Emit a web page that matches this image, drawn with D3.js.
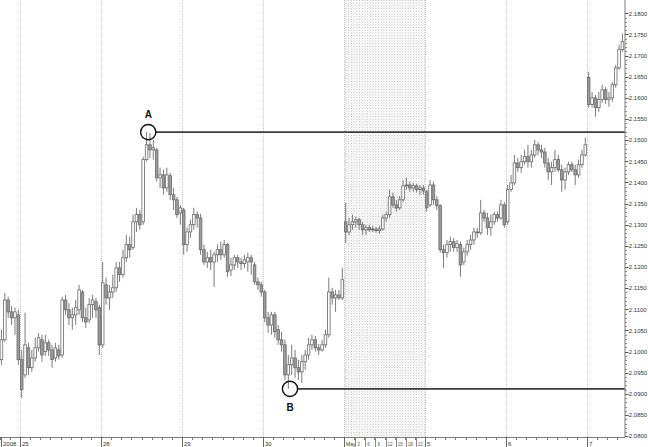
<!DOCTYPE html>
<html><head><meta charset="utf-8">
<script src="https://cdn.jsdelivr.net/npm/d3@7"></script>
<style>body{margin:0;background:#fff}svg{display:block}text{font-family:"Liberation Sans",Arial,sans-serif}</style>
</head><body><svg id="c" width="648" height="447"></svg>
<script>
// Hourly candles, 24 Apr 2008 late – 7 May 2008
const opens=[
2.0981,2.1028,2.1122,2.1094,2.1080,2.1087,2.0981,2.0945,2.1009,2.0962,
2.0985,2.1009,2.1028,2.1000,2.1021,2.1004,2.0985,2.1004,2.0992,2.1122,
2.1099,2.1080,2.1087,2.1099,2.1141,2.1080,2.1075,2.1111,2.1118,2.1104,
2.1016,2.1158,2.1127,2.1141,2.1151,2.1198,2.1182,2.1222,2.1253,2.1246,
2.1307,2.1324,2.1307,2.1454,2.1489,2.1477,2.1477,2.1411,2.1418,2.1387,
2.1416,2.1371,2.1359,2.1328,2.1335,2.1253,2.1283,2.1300,2.1324,2.1316,
2.1241,2.1212,2.1222,2.1212,2.1229,2.1241,2.1229,2.1253,2.1193,2.1205,
2.1222,2.1212,2.1208,2.1212,2.1222,2.1205,2.1165,2.1158,2.1141,2.1080,
2.1063,2.1087,2.1052,2.1028,2.1016,2.0945,2.0969,2.0985,2.0962,2.0952,
2.0976,2.0992,2.1016,2.1028,2.1009,2.1004,2.1016,2.1040,2.1141,2.1127,
2.1134,2.1127,2.1307,2.1283,2.1300,2.1307,2.1312,2.1300,2.1288,2.1293,
2.1288,2.1290,2.1286,2.1290,2.1316,2.1324,2.1366,2.1347,2.1340,2.1359,
2.1392,2.1394,2.1387,2.1392,2.1383,2.1387,2.1378,2.1347,2.1394,2.1359,
2.1345,2.1241,2.1234,2.1253,2.1260,2.1246,2.1253,2.1212,2.1236,2.1253,
2.1264,2.1283,2.1281,2.1328,2.1316,2.1293,2.1307,2.1324,2.1316,2.1347,
2.1307,2.1383,2.1399,2.1446,2.1435,2.1449,2.1461,2.1449,2.1465,2.1489,
2.1477,2.1472,2.1446,2.1425,2.1435,2.1454,2.1430,2.1406,2.1425,2.1442,
2.1430,2.1418,2.1442,2.1465,2.1648,2.1584,2.1600,2.1577,2.1596,2.1619,
2.1596,2.1600,2.1631,2.1671,2.1714];
const highs=[
2.1052,2.1139,2.1130,2.1108,2.1104,2.1099,2.1004,2.1092,2.1021,2.1004,
2.1033,2.1044,2.1040,2.1040,2.1028,2.1016,2.1021,2.1016,2.1130,2.1134,
2.1115,2.1104,2.1122,2.1158,2.1146,2.1104,2.1127,2.1134,2.1127,2.1111,
2.1212,2.1175,2.1158,2.1182,2.1212,2.1212,2.1241,2.1276,2.1272,2.1324,
2.1340,2.1335,2.1461,2.1519,2.1517,2.1501,2.1482,2.1435,2.1430,2.1435,
2.1423,2.1387,2.1366,2.1347,2.1340,2.1293,2.1312,2.1340,2.1331,2.1326,
2.1253,2.1236,2.1241,2.1236,2.1253,2.1260,2.1264,2.1257,2.1222,2.1229,
2.1229,2.1222,2.1229,2.1234,2.1229,2.1212,2.1175,2.1165,2.1146,2.1094,
2.1094,2.1094,2.1063,2.1047,2.1028,2.0992,2.1016,2.1004,2.0981,2.0992,
2.1004,2.1033,2.1040,2.1037,2.1018,2.1028,2.1052,2.1175,2.1151,2.1146,
2.1146,2.1198,2.1352,2.1316,2.1324,2.1319,2.1316,2.1307,2.1300,2.1300,
2.1298,2.1295,2.1298,2.1324,2.1331,2.1383,2.1376,2.1359,2.1368,2.1406,
2.1411,2.1402,2.1399,2.1397,2.1394,2.1394,2.1383,2.1406,2.1402,2.1368,
2.1349,2.1253,2.1264,2.1272,2.1269,2.1264,2.1260,2.1246,2.1264,2.1276,
2.1293,2.1293,2.1359,2.1335,2.1328,2.1324,2.1331,2.1331,2.1359,2.1354,
2.1394,2.1418,2.1465,2.1458,2.1465,2.1477,2.1489,2.1477,2.1501,2.1496,
2.1489,2.1482,2.1458,2.1449,2.1477,2.1465,2.1442,2.1435,2.1449,2.1449,
2.1442,2.1454,2.1477,2.1506,2.1662,2.1614,2.1607,2.1614,2.1631,2.1626,
2.1614,2.1638,2.1678,2.1726,2.1752];
const lows=[
2.0969,2.1023,2.1080,2.1063,2.1040,2.0969,2.0891,2.0938,2.0945,2.0952,
2.0976,2.1000,2.0976,2.0990,2.0990,2.0962,2.0976,2.0981,2.0985,2.1087,
2.1063,2.1052,2.1063,2.1087,2.1070,2.1056,2.1068,2.1080,2.1080,2.0992,
2.1009,2.1111,2.1099,2.1127,2.1141,2.1165,2.1175,2.1212,2.1222,2.1241,
2.1283,2.1288,2.1300,2.1449,2.1458,2.1454,2.1402,2.1387,2.1371,2.1378,
2.1359,2.1335,2.1316,2.1300,2.1229,2.1236,2.1269,2.1288,2.1293,2.1229,
2.1205,2.1198,2.1193,2.1153,2.1212,2.1217,2.1222,2.1177,2.1179,2.1193,
2.1198,2.1193,2.1198,2.1189,2.1182,2.1158,2.1146,2.1130,2.1070,2.1044,
2.1040,2.1033,2.1016,2.1000,2.0933,2.0912,2.0945,2.0938,2.0933,2.0926,
2.0957,2.0981,2.1004,2.1000,2.0992,2.1000,2.1009,2.1033,2.1111,2.1094,
2.1122,2.1122,2.1257,2.1276,2.1288,2.1293,2.1288,2.1276,2.1276,2.1283,
2.1283,2.1281,2.1279,2.1286,2.1307,2.1316,2.1340,2.1331,2.1335,2.1354,
2.1383,2.1378,2.1378,2.1376,2.1371,2.1371,2.1331,2.1342,2.1347,2.1335,
2.1234,2.1198,2.1222,2.1236,2.1236,2.1236,2.1177,2.1205,2.1227,2.1241,
2.1253,2.1269,2.1276,2.1307,2.1276,2.1274,2.1300,2.1307,2.1312,2.1293,
2.1300,2.1378,2.1394,2.1425,2.1423,2.1442,2.1435,2.1435,2.1458,2.1465,
2.1458,2.1435,2.1406,2.1394,2.1425,2.1425,2.1378,2.1383,2.1418,2.1425,
2.1394,2.1411,2.1435,2.1461,2.1577,2.1577,2.1555,2.1567,2.1588,2.1586,
2.1579,2.1591,2.1624,2.1666,2.1709];
const closes=[
2.1028,2.1122,2.1094,2.1080,2.1094,2.0981,2.0910,2.1016,2.0962,2.0985,
2.1009,2.1033,2.0992,2.1021,2.1004,2.0981,2.1009,2.0990,2.1122,2.1099,
2.1080,2.1087,2.1104,2.1146,2.1080,2.1070,2.1111,2.1122,2.1099,2.1016,
2.1163,2.1127,2.1141,2.1151,2.1198,2.1182,2.1222,2.1253,2.1241,2.1307,
2.1324,2.1300,2.1454,2.1489,2.1477,2.1482,2.1411,2.1418,2.1387,2.1418,
2.1371,2.1359,2.1324,2.1340,2.1253,2.1283,2.1300,2.1324,2.1316,2.1241,
2.1212,2.1222,2.1212,2.1229,2.1241,2.1229,2.1253,2.1189,2.1205,2.1222,
2.1212,2.1208,2.1217,2.1222,2.1212,2.1165,2.1158,2.1141,2.1080,2.1063,
2.1087,2.1047,2.1028,2.1016,2.0945,2.0969,2.0985,2.0962,2.0952,2.0976,
2.0992,2.1016,2.1028,2.1009,2.1004,2.1016,2.1040,2.1141,2.1127,2.1134,
2.1127,2.1170,2.1283,2.1300,2.1307,2.1312,2.1300,2.1288,2.1293,2.1288,
2.1290,2.1286,2.1290,2.1316,2.1324,2.1366,2.1347,2.1340,2.1359,2.1392,
2.1394,2.1387,2.1392,2.1383,2.1387,2.1380,2.1340,2.1394,2.1359,2.1345,
2.1241,2.1234,2.1253,2.1260,2.1246,2.1255,2.1205,2.1236,2.1253,2.1264,
2.1283,2.1281,2.1328,2.1316,2.1293,2.1307,2.1324,2.1316,2.1347,2.1300,
2.1383,2.1399,2.1446,2.1435,2.1449,2.1461,2.1449,2.1465,2.1489,2.1477,
2.1472,2.1446,2.1425,2.1435,2.1454,2.1430,2.1406,2.1425,2.1442,2.1430,
2.1418,2.1442,2.1465,2.1489,2.1584,2.1600,2.1577,2.1596,2.1619,2.1596,
2.1600,2.1631,2.1671,2.1714,2.1733];

const dayLabels=["2008","25","28","29","30","May","5","6","7"];
const dayStart=[0,6,30,54,78,102,126,150,174];
const hourLabels=["3","6","9","12","15","18","21"];
const hourStart=[105,108,111,114,117,120,123];
const shadeRange=[102,126];
const yTickLabels=["2.0800","2.0850","2.0900","2.0950","2.1000","2.1050","2.1100","2.1150","2.1200","2.1250","2.1300","2.1350","2.1400","2.1450","2.1500","2.1550","2.1600","2.1650","2.1700","2.1750","2.1800"];
const annotLabels=["A","B"];
const annotIndex=[43,85];
const annotValue=[2.1519,2.0912];

const svg=d3.select("#c");
const n=closes.length;
const axisX=625, axisY=437;
const x=d3.scaleLinear().domain([0,n]).range([-0.25,-0.25+n*3.375]);
const y=d3.scaleLinear().domain([2.08,2.18]).range([436.2,13.3]);

// pattern for shaded session
const defs=svg.append("defs");
const pat=defs.append("pattern").attr("id","grid").attr("patternUnits","userSpaceOnUse")
  .attr("width",2.7).attr("height",2.7);
pat.append("rect").attr("x",0).attr("y",0).attr("width",1).attr("height",1).attr("fill","#b8b8b8");
pat.append("rect").attr("x",1.35).attr("y",1.35).attr("width",1).attr("height",1).attr("fill","#dcdcdc");

svg.append("rect").attr("x",x(shadeRange[0])).attr("y",0)
  .attr("width",x(shadeRange[1])-x(shadeRange[0])).attr("height",axisY)
  .attr("fill","url(#grid)");

// day grid lines
svg.append("g").selectAll("line").data(dayStart.slice(1)).join("line")
  .attr("x1",d=>Math.round(x(d))+0.5).attr("x2",d=>Math.round(x(d))+0.5)
  .attr("y1",0).attr("y2",axisY)
  .attr("stroke","#c4c4c4").attr("stroke-width",1).attr("stroke-dasharray","1,1");

// candles
const idx=d3.range(n);
const cg=svg.append("g");
cg.selectAll("line").data(idx).join("line")
  .attr("x1",i=>x(i+0.5)).attr("x2",i=>x(i+0.5))
  .attr("y1",i=>y(highs[i])).attr("y2",i=>y(lows[i]))
  .attr("stroke","#7a7a7a").attr("stroke-width",1);
cg.selectAll("rect").data(idx).join("rect")
  .attr("x",i=>x(i+0.5)-1.3).attr("width",2.6)
  .attr("y",i=>y(Math.max(opens[i],closes[i])))
  .attr("height",i=>Math.max(0.6,Math.abs(y(opens[i])-y(closes[i]))))
  .attr("fill",i=>closes[i]>=opens[i]?"#ffffff":"#9c9c9c")
  .attr("stroke","#6a6a6a").attr("stroke-width",0.8);

// annotation levels
annotLabels.forEach((lab,k)=>{
  const cx=x(annotIndex[k]+1), cy=y(annotValue[k]), r=7.6;
  svg.append("line").attr("x1",cx+r).attr("x2",axisX).attr("y1",cy).attr("y2",cy)
    .attr("stroke","#3a3a3a").attr("stroke-width",1.8);
  svg.append("circle").attr("cx",cx).attr("cy",cy).attr("r",r)
    .attr("fill","none").attr("stroke","#111").attr("stroke-width",1.4);
  svg.append("text").attr("x",cx).attr("y",k===0?cy-14:cy+22)
    .attr("text-anchor","middle").attr("font-size",10).attr("font-weight","bold")
    .attr("fill","#111").text(lab);
});

// right axis
const yg=svg.append("g").attr("transform",`translate(${axisX},0)`);
yg.append("line").attr("x1",0).attr("x2",0).attr("y1",0).attr("y2",axisY).attr("stroke","#7a7a7a");
const yTicks=yTickLabels.map(Number);
const minor=d3.range(0,101).map(k=>2.08+k*0.001);
yg.selectAll("line.mn").data(minor).join("line").attr("class","mn")
  .attr("x1",0).attr("x2",2).attr("y1",d=>Math.round(y(d))+0.5).attr("y2",d=>Math.round(y(d))+0.5)
  .attr("stroke","#888");
yg.selectAll("line.mj").data(yTicks).join("line").attr("class","mj")
  .attr("x1",0).attr("x2",3.5).attr("y1",d=>Math.round(y(d))+0.5).attr("y2",d=>Math.round(y(d))+0.5)
  .attr("stroke","#555");
yg.selectAll("text").data(yTicks).join("text")
  .attr("x",3.8).attr("y",d=>y(d)+2.2).attr("font-size",6).attr("fill","#333")
  .text((d,i)=>yTickLabels[i]);

// bottom axis
const xg=svg.append("g");
xg.append("line").attr("x1",0).attr("x2",axisX).attr("y1",axisY+0.5).attr("y2",axisY+0.5).attr("stroke","#7a7a7a");
const minorX=d3.range(0,n+1,3);
xg.selectAll("line.mx").data(minorX).join("line").attr("class","mx")
  .attr("x1",d=>Math.round(x(d))+0.5).attr("x2",d=>Math.round(x(d))+0.5)
  .attr("y1",axisY).attr("y2",axisY+3).attr("stroke","#777");
const dayX=dayStart.map((d,i)=>i===0?1:x(d));
xg.selectAll("line.dx").data(dayX).join("line").attr("class","dx")
  .attr("x1",d=>Math.round(d)+0.5).attr("x2",d=>Math.round(d)+0.5)
  .attr("y1",axisY).attr("y2",447).attr("stroke","#666");
xg.selectAll("text.dl").data(dayLabels).join("text").attr("class","dl")
  .attr("x",(d,i)=>Math.round(dayX[i])+2).attr("y",445.5)
  .attr("font-size",(d,i)=>i===5?5:6).attr("fill","#333").text(d=>d);
xg.selectAll("line.hx").data(hourStart).join("line").attr("class","hx")
  .attr("x1",d=>Math.round(x(d))+0.5+1).attr("x2",d=>Math.round(x(d))+0.5+1)
  .attr("y1",axisY).attr("y2",447).attr("stroke","#888");
xg.selectAll("text.hl").data(hourLabels).join("text").attr("class","hl")
  .attr("x",(d,i)=>x(hourStart[i])+3).attr("y",445.5).attr("font-size",4.5).attr("fill","#555").text(d=>d);
</script></body></html>
